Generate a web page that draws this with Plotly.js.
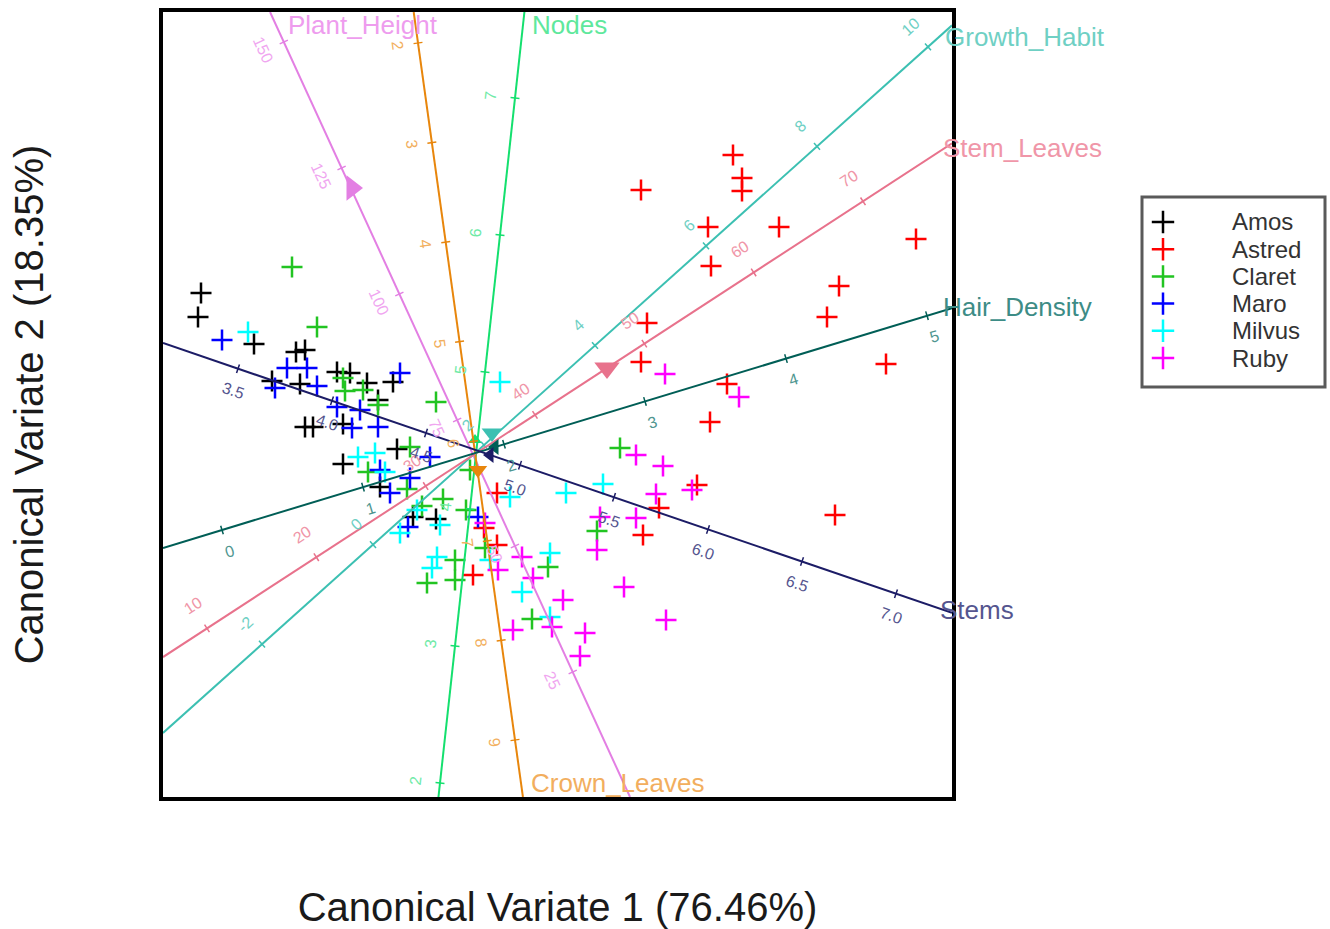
<!DOCTYPE html>
<html><head><meta charset="utf-8">
<script src="https://cdn.plot.ly/plotly-3.0.1.min.js"></script>
<style>body{margin:0;background:#fff}</style>
</head><body><div id="chart" style="width:1330px;height:929px"></div>
<script>
// ---------------- data: canonical variate scores per cultivar ----------------
const groups = ["Amos", "Astred", "Claret", "Maro", "Milvus", "Ruby"];

const amosX = [-2.79,-2.82,-2.26,-1.84,-1.75,-2.08,-1.80,-1.43,-1.30,-1.13,-0.87,-1.02,-1.75,-1.67,-1.37,-1.37,-0.83,-1.00,-0.67,-0.44];
const amosY = [1.62,1.38,1.11,1.03,1.05,0.74,0.71,0.83,0.82,0.72,0.73,0.55,0.28,0.28,0.31,-0.09,0.06,-0.32,-0.62,-0.64];

const astredX = [2.53,2.62,2.62,1.61,2.28,2.99,4.36,2.31,3.59,3.47,1.67,1.61,4.06,2.47,2.30,2.17,1.79,3.55,1.63,0.17,0.04,0.17,-0.07];
const astredY = [3.00,2.77,2.64,2.65,2.28,2.28,2.16,1.89,1.69,1.38,1.32,0.93,0.91,0.71,0.33,-0.30,-0.53,-0.60,-0.80,-0.38,-0.73,-0.90,-1.20];

const claretX = [-1.88,-1.63,-1.37,-1.35,-1.17,-1.02,-0.44,-0.70,-1.12,-0.73,-0.37,-0.58,-0.14,-0.10,-0.25,-0.53,-0.25,0.68,0.52,1.17,1.40,0.05];
const claretY = [1.88,1.28,0.77,0.64,0.65,0.50,0.53,0.08,-0.17,-0.34,-0.44,-0.51,-0.55,-0.15,-1.05,-1.28,-1.25,-1.12,-1.64,-0.76,0.07,-0.93];

const maroX = [-2.58,-1.93,-1.73,-2.05,-1.63,-1.43,-1.20,-0.80,-1.28,-1.02,-0.50,-1.00,-0.70,-0.90,-0.72,-0.02];
const maroY = [1.15,0.87,0.87,0.67,0.69,0.48,0.45,0.82,0.27,0.28,-0.02,-0.15,-0.23,-0.38,-0.72,-0.62];

const milvusX = [-2.32,0.20,-1.22,-1.05,-0.63,-0.40,-0.80,0.30,1.23,0.86,0.70,-0.43,-0.48,0.42,0.70,0.10,-0.95];
const milvusY = [1.23,0.73,-0.02,0.02,-0.55,-0.70,-0.78,-0.42,-0.29,-0.38,-0.98,-1.02,-1.13,-1.37,-1.62,-1.05,-0.17];

const rubyX = [1.85,2.59,1.56,1.83,1.76,2.12,1.56,1.20,1.17,1.44,0.83,1.86,1.05,1.00,0.72,0.33,0.18,0.42,0.53,0.05];
const rubyY = [0.81,0.58,0.00,-0.11,-0.39,-0.35,-0.63,-0.62,-0.95,-1.32,-1.45,-1.65,-1.78,-2.01,-1.72,-1.75,-1.15,-1.02,-1.23,-0.68];

// ---------------- biplot variable axes ----------------
const variables = ["Plant_Height", "Nodes", "Crown_Leaves", "Growth_Habit", "Stem_Leaves", "Hair_Density", "Stems"];
const plantHeightTicks = [25, 50, 75, 100, 125, 150];
const nodesTicks = [2, 3, 4, 5, 6, 7];
const crownLeavesTicks = [2, 3, 4, 5, 6, 7, 8, 9];
const growthHabitTicks = [-2, 0, 2, 4, 6, 8, 10];
const stemLeavesTicks = [10, 20, 30, 40, 50, 60, 70];
const hairDensityTicks = [0, 1, 2, 3, 4, 5];
const stemsTicks = [3.5, 4.0, 4.5, 5.0, 5.5, 6.0, 6.5, 7.0];
// calibration: [value, CV1, CV2] of two marked values on each axis
const plantHeightCal = [[25, 0.927, -2.17], [150, -1.962, 4.13]];
const nodesCal = [[2, -0.40, -3.28], [7, 0.35, 3.57]];
const crownLeavesCal = [[2, -0.62, 4.12], [9, 0.35, -2.85]];
const growthHabitCal = [[0, -1.07, -0.896], [8, 3.37, 3.086]];
const stemLeavesCal = [[10, -2.73, -1.734], [70, 3.83, 2.537]];
const hairDensityCal = [[0, -2.58, -0.75], [5, 4.47, 1.393]];
const stemsCal = [[3.5, -2.42, 0.863], [7.0, 4.16, -1.387]];
// arrow-head markers on each axis (same order as variables)
const arrowX = [-1.28, -0.05, -0.02, 0.12, 1.27, 0.15, 0.10];
const arrowY = [2.67, 0.15, -0.15, 0.22, 0.87, 0.08, 0.00];

// ---------------- styles ----------------
const FONT = "Liberation Sans, Arial, sans-serif";
const X_RANGE = [-3.17, 4.72], Y_RANGE = [-3.42, 4.43];
const PAPER_W = 1167;                 // 1330 - left margin
const X_DOM = [0, 789 / PAPER_W];     // main plot frame width 789px
const groupColors = ["#000000", "#FF0000", "#22C422", "#0000FF", "#00FFFF", "#FF00FF"];
// shift: [dx, dy] of tick labels in screen px (dy positive = down); end: same for the variable name
const axisStyle = {
  Plant_Height: {line: "#E37FE3", lab: "#EE9CEE", tick: "#F0A6F0", shift: [-20, 8], end: [16, 13], sym: "triangle-right", size: 22},
  Nodes:        {line: "#14E06E", lab: "#5EE89C", tick: "#6EEAA6", shift: [-25, -2], end: [6, 13], sym: "triangle-up", size: 12},
  Crown_Leaves: {line: "#E8860C", lab: "#F2AE5E", tick: "#F2B060", shift: [-20, 2], end: [6, -14], sym: "triangle-down", size: 16},
  Growth_Habit: {line: "#3CC0B2", lab: "#6FD0C4", tick: "#6FD0C4", shift: [-17, -20], end: [-9, 12], sym: "triangle-down", size: 18},
  Stem_Leaves:  {line: "#E8728C", lab: "#F096A8", tick: "#F096A8", shift: [-14, -23], end: [-11, 5], sym: "triangle-down", size: 22},
  Hair_Density: {line: "#005E56", lab: "#3D8C86", tick: "#4F9690", shift: [7, 21], end: [-11, -1], sym: "triangle-left", size: 14},
  Stems:        {line: "#1C1C66", lab: "#55558F", tick: "#55558F", shift: [-5, 22], end: [-14, -3], sym: "triangle-left", size: 14}
};
const axisData = {
  Plant_Height: [plantHeightTicks, plantHeightCal],
  Nodes: [nodesTicks, nodesCal],
  Crown_Leaves: [crownLeavesTicks, crownLeavesCal],
  Growth_Habit: [growthHabitTicks, growthHabitCal],
  Stem_Leaves: [stemLeavesTicks, stemLeavesCal],
  Hair_Density: [hairDensityTicks, hairDensityCal],
  Stems: [stemsTicks, stemsCal]
};

const groupX = [amosX, astredX, claretX, maroX, milvusX, rubyX];
const groupY = [amosY, astredY, claretY, maroY, milvusY, rubyY];

const traces = [];
const annotations = [];
const shapes = [];

groups.forEach((g, i) => {
  traces.push({
    type: "scatter", mode: "markers", name: g,
    x: groupX[i], y: groupY[i],
    marker: {symbol: "cross-thin-open", size: 15, color: groupColors[i], line: {width: 2.5, color: groupColors[i]}},
    showlegend: false, hoverinfo: "skip"
  });
});

function toPaper(x, y) {
  return [X_DOM[0] + (X_DOM[1] - X_DOM[0]) * (x - X_RANGE[0]) / (X_RANGE[1] - X_RANGE[0]),
          (y - Y_RANGE[0]) / (Y_RANGE[1] - Y_RANGE[0])];
}

variables.forEach((v, k) => {
  const [ticks, cal] = axisData[v];
  const st = axisStyle[v];
  const [v1, x1, y1] = cal[0], [v2, x2, y2] = cal[1];
  const dx = (x2 - x1) / (v2 - v1), dy = (y2 - y1) / (v2 - v1);
  const pos = val => [x1 + (val - v1) * dx, y1 + (val - v1) * dy];
  // clip the line to the frame (t = value offset from v1)
  let lo = -Infinity, hi = Infinity;
  [[dx, x1, X_RANGE], [dy, y1, Y_RANGE]].forEach(([d, p, r]) => {
    if (Math.abs(d) > 1e-12) {
      const a = (r[0] - p) / d, b = (r[1] - p) / d;
      lo = Math.max(lo, Math.min(a, b)); hi = Math.min(hi, Math.max(a, b));
    }
  });
  const pLo = pos(v1 + lo), pHi = pos(v1 + hi);
  traces.push({type: "scatter", mode: "lines", x: [pLo[0], pHi[0]], y: [pLo[1], pHi[1]],
    line: {color: st.line, width: 2}, showlegend: false, hoverinfo: "skip"});
  // tick marks
  const len = Math.hypot(dx, dy), nx = -dy / len * 0.045, ny = dx / len * 0.045;
  const tx = [], ty = [];
  ticks.forEach(t => { const p = pos(t); tx.push(p[0] - nx, p[0] + nx, null); ty.push(p[1] - ny, p[1] + ny, null); });
  traces.push({type: "scatter", mode: "lines", x: tx, y: ty, line: {color: st.line, width: 1.5},
    showlegend: false, hoverinfo: "skip"});
  // text angle along the axis
  let ang = Math.atan2(-dy, dx) * 180 / Math.PI;
  if (ang > 90) ang -= 180; if (ang < -90) ang += 180;
  ticks.forEach(t => {
    const p = pos(t);
    annotations.push({x: p[0], y: p[1], xref: "x", yref: "y", showarrow: false,
      text: v === "Stems" ? t.toFixed(1) : String(t), textangle: ang,
      xshift: st.shift[0], yshift: -st.shift[1],
      font: {family: FONT, size: 16, color: st.tick}});
  });
  // variable name at the high end of the axis
  const pp = toPaper(pHi[0], pHi[1]);
  annotations.push({x: pp[0], y: pp[1], xref: "paper", yref: "paper", showarrow: false,
    xanchor: "left", yanchor: "middle", text: v, xshift: st.end[0], yshift: -st.end[1],
    font: {family: FONT, size: 26, color: st.lab}});
  // arrow-head marker
  traces.push({type: "scatter", mode: "markers", x: [arrowX[k]], y: [arrowY[k]],
    marker: {symbol: st.sym, size: st.size, color: st.line}, showlegend: false, hoverinfo: "skip"});
});

// ---------------- legend (drawn on its own small axis pair: x in px, y in rows) ----------------
const legendRows = groups.map((g, i) => i);
traces.push({
  type: "scatter", mode: "markers", xaxis: "x2", yaxis: "y2",
  x: groups.map(() => 1163), y: legendRows,
  marker: {symbol: "cross-thin-open", size: 16, color: groupColors, line: {width: 2.5, color: groupColors}},
  showlegend: false, hoverinfo: "skip"
});
groups.forEach((g, i) => {
  annotations.push({x: 1230, y: i, xref: "x2", yref: "y2", xanchor: "left", yanchor: "middle",
    showarrow: false, text: g, font: {family: FONT, size: 24, color: "#333333"}});
});
shapes.push({type: "rect", xref: "x2", yref: "y2", x0: 1142, x1: 1325, y0: -0.92, y1: 6.07,
  line: {color: "#5a5a5a", width: 3}, fillcolor: "rgba(0,0,0,0)", layer: "below"});

const layout = {
  width: 1330, height: 929,
  margin: {l: 163, r: 0, t: 12, b: 132},
  paper_bgcolor: "#ffffff", plot_bgcolor: "rgba(0,0,0,0)",
  font: {family: FONT},
  showlegend: false,
  xaxis: {domain: X_DOM, range: X_RANGE, showgrid: false, zeroline: false, showticklabels: false, ticks: "",
    showline: true, mirror: true, linewidth: 4, linecolor: "#000000", fixedrange: true,
    title: {text: "Canonical Variate 1 (76.46%)", standoff: 94, font: {family: FONT, size: 40, color: "#1a1a1a"}}},
  yaxis: {range: Y_RANGE, showgrid: false, zeroline: false, showticklabels: false, ticks: "",
    showline: true, mirror: true, linewidth: 4, linecolor: "#000000", fixedrange: true,
    title: {text: "Canonical Variate 2 (18.35%)", standoff: 104, font: {family: FONT, size: 40, color: "#1a1a1a"}}},
  xaxis2: {domain: [(1135 - 163) / PAPER_W, 1], range: [1135, 1330], anchor: "y2", visible: false, fixedrange: true},
  yaxis2: {domain: [(797 - 400) / 785, (797 - 190) / 785], range: [(400 - 222) / 27.2, (190 - 222) / 27.2],
    anchor: "x2", visible: false, fixedrange: true},
  annotations: annotations,
  shapes: shapes
};

Plotly.newPlot("chart", traces, layout, {displayModeBar: false, staticPlot: true});
</script>
</body></html>
